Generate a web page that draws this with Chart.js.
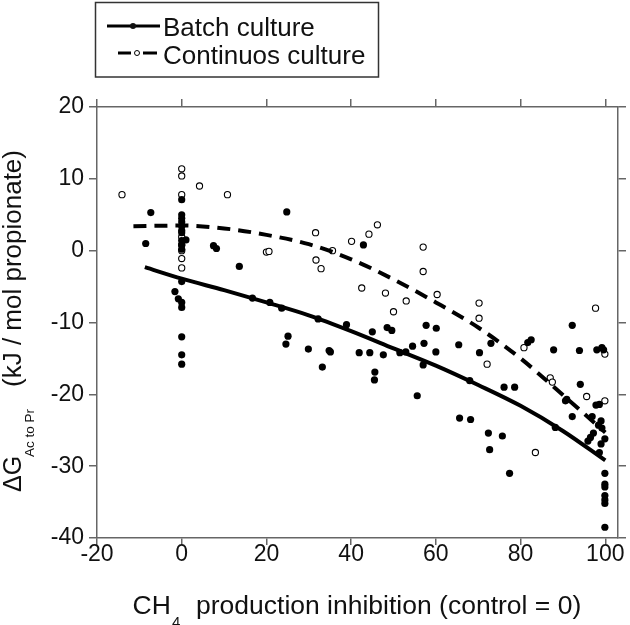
<!DOCTYPE html>
<html>
<head>
<meta charset="utf-8">
<script src="https://cdn.jsdelivr.net/npm/chart.js@4.4.1/dist/chart.umd.min.js"></script>
<style>
  body { margin: 0; background: #fff; }
  #wrap { width: 630px; height: 625px; }
</style>
</head>
<body>
<div id="wrap"><canvas id="chart" width="630" height="625"></canvas></div>
<script>
// measured points, batch culture (filled)
const batchX = [0, 0, 0, 0, 0, 0, 0, 0, 0, 0, 0, 0, 0, 0, 0, 0,
  -7.3, -8.5, 24.8, 1.0, 7.5, 8.2, 13.6, -1.6, -0.8, 16.7, 20.8, 23.6, 25.1, 24.6, 29.9,
  32.2, 33.2, 34.8, 35.1, 38.9, 41.9, 44.4, 45.0, 45.6, 45.5, 42.9, 47.6, 48.5, 49.6,
  51.5, 52.9, 54.5, 55.6, 57.2, 57.7, 57.0, 60.1, 60.0, 65.4, 68.0, 70.3, 65.6, 68.2,
  73.0, 72.4, 72.7, 75.7, 77.4, 76.1, 78.6, 81.7, 82.5, 87.8, 88.2, 90.6, 90.9, 92.2,
  92.2, 93.9, 94.1, 96.9, 95.9, 96.5, 97.2, 97.8, 98.6, 98.0, 99.2, 99.6, 99.0, 98.4,
  99.2, 99.9, 99.0, 98.6, 99.9, 99.9, 99.9, 99.9, 99.9, 99.9, 99.9];
const batchY = [7.1, 5.0, 4.5, 4.0, 3.4, 2.8, 2.5, 1.4, 0.8, 0.2, -4.3, -7.2, -7.9, -12.0, -14.5, -15.8,
  5.3, 1.0, 5.4, 1.5, 0.7, 0.3, -2.2, -5.7, -6.7, -6.6, -7.2, -8.0, -11.9, -13.0, -13.7,
  -9.5, -16.2, -13.9, -14.1, -10.3, -14.2, -14.2, -11.3, -16.9, -18.0, 0.8, -14.5, -10.7, -11.1,
  -14.2, -14.1, -13.3, -20.2, -12.9, -10.4, -15.9, -10.8, -14.1, -13.1, -18.1, -14.2, -23.3, -23.5,
  -12.9, -25.4, -27.7, -25.8, -31.0, -19.0, -19.0, -12.8, -12.4, -13.8, -24.6, -20.9, -20.7, -10.4,
  -23.1, -13.9, -18.6, -23.1, -26.5, -26.0, -25.4, -21.5, -21.4, -13.8, -13.5, -13.8, -23.7, -24.3,
  -24.7, -26.2, -26.9, -28.1, -31.0, -32.5, -32.9, -34.1, -34.7, -35.2, -38.5];

// measured points, continuous culture (open)
const contX = [-14.1, 0, 0, 0, 0, 0, 0, 0, 0, 4.2, 10.8, 20.0, 20.6, 31.6, 31.7, 32.9,
  35.6, 40.1, 44.2, 46.2, 42.5, 48.1, 53.0, 50.0, 57.0, 57.0, 60.3, 70.2, 70.2, 72.1,
  80.8, 83.5, 87.0, 87.5, 95.6, 97.7, 99.9, 99.9];
const contY = [7.8, 11.4, 10.4, 7.8, 1.9, 0.8, 0.0, -1.1, -2.4, 9.0, 7.8, -0.2, -0.1, 2.5, -1.3, -2.5,
  0.0, 1.3, 2.3, 3.6, -5.2, -5.9, -7.0, -8.5, 0.5, -2.9, -6.1, -7.3, -9.4, -15.8,
  -13.5, -28.1, -17.7, -18.3, -20.3, -8.0, -14.4, -20.9];

// fitted curves
const batchFitX = [-8.7, 0, 10, 20, 30, 40, 50, 60, 70, 80, 90, 100];
const batchFitY = [-2.3, -3.9, -5.5, -7.2, -9.0, -11.2, -13.6, -16.0, -18.7, -21.6, -25.1, -29.2];
const contFitX = [-11.4, 0, 10, 20, 30, 40, 50, 60, 70, 80, 90, 100];
const contFitY = [3.4, 3.5, 3.1, 2.2, 0.9, -1.2, -4.0, -7.2, -10.7, -15.0, -20.1, -25.3];

const FONT = '"Liberation Sans", Arial, sans-serif';
const toXY = (xs, ys) => xs.map((x, i) => ({ x: x, y: ys[i] }));

// legend box + axis titles drawn by hand (subscripts)
const extras = {
  id: 'extras',
  afterDraw(chart) {
    const ctx = chart.ctx;
    ctx.save();
    ctx.fillStyle = '#111';

    // legend
    ctx.lineWidth = 1.5;
    ctx.strokeStyle = '#333';
    ctx.strokeRect(95.5, 2.5, 283, 74.5);
    ctx.strokeStyle = '#000';
    ctx.lineWidth = 3;
    ctx.beginPath(); ctx.moveTo(107, 26); ctx.lineTo(160, 26); ctx.stroke();
    ctx.beginPath(); ctx.arc(133, 26, 3, 0, Math.PI * 2); ctx.fill();
    ctx.beginPath(); ctx.moveTo(118, 53); ctx.lineTo(131, 53); ctx.moveTo(143, 53); ctx.lineTo(157, 53); ctx.stroke();
    ctx.lineWidth = 1;
    ctx.fillStyle = '#fff';
    ctx.beginPath(); ctx.arc(137, 53, 2.5, 0, Math.PI * 2); ctx.fill(); ctx.stroke();
    ctx.fillStyle = '#111';
    ctx.font = '26px ' + FONT;
    ctx.textBaseline = 'alphabetic';
    ctx.textAlign = 'left';
    ctx.fillText('Batch culture', 163, 36);
    ctx.fillText('Continuos culture', 163, 64);

    // x title
    ctx.font = '26.5px ' + FONT;
    ctx.fillText('CH', 132.5, 614);
    ctx.font = '15px ' + FONT;
    ctx.fillText('4', 172, 627);
    ctx.font = '26.5px ' + FONT;
    ctx.fillText('production inhibition (control = 0)', 196, 614);

    // y title
    ctx.translate(0, 492);
    ctx.rotate(-Math.PI / 2);
    ctx.font = '25px ' + FONT;
    ctx.fillText('\u0394G', 0, 21);
    ctx.font = '13.5px ' + FONT;
    ctx.fillText('Ac to Pr', 35, 33.5);
    ctx.font = '26px ' + FONT;
    ctx.fillText('(kJ / mol propionate)', 105, 21);
    ctx.restore();
  }
};

const axisGrid = { drawOnChartArea: false, drawTicks: true, tickLength: 8, color: '#666', lineWidth: 1.5 };
const axisBorder = { color: '#666', width: 1.5 };

new Chart(document.getElementById('chart'), {
  type: 'scatter',
  data: {
    datasets: [
      {
        label: 'Batch fit',
        type: 'line',
        data: toXY(batchFitX, batchFitY),
        borderColor: '#000',
        borderWidth: 4,
        pointRadius: 0,
        cubicInterpolationMode: 'monotone',
        fill: false
      },
      {
        label: 'Continuos fit',
        type: 'line',
        data: toXY(contFitX, contFitY),
        borderColor: '#000',
        borderWidth: 4,
        borderDash: [13, 8],
        pointRadius: 0,
        cubicInterpolationMode: 'monotone',
        fill: false
      },
      {
        label: 'Batch culture',
        data: toXY(batchX, batchY),
        backgroundColor: '#000',
        borderColor: '#000',
        borderWidth: 0,
        pointRadius: 3.6
      },
      {
        label: 'Continuos culture',
        data: toXY(contX, contY),
        backgroundColor: '#fff',
        borderColor: '#000',
        borderWidth: 1.1,
        pointRadius: 3.1
      }
    ]
  },
  options: {
    responsive: false,
    animation: false,
    layout: { padding: { top: 98, left: 0, right: 0, bottom: 0 } },
    plugins: { legend: { display: false }, tooltip: { enabled: false } },
    scales: {
      x: {
        type: 'linear', position: 'bottom', min: -20, max: 103,
        ticks: { stepSize: 20, includeBounds: false, color: '#111', font: { family: FONT, size: 23 }, padding: -4, maxRotation: 0 },
        grid: Object.assign({}, axisGrid, { tickLength: 7 }),
        border: axisBorder,
        afterFit: s => { s.height = 87; }
      },
      x2: {
        type: 'linear', position: 'top', min: -20, max: 103,
        ticks: { stepSize: 20, includeBounds: false, callback: () => '' },
        grid: axisGrid,
        border: axisBorder,
        afterFit: s => { s.height = 9; }
      },
      y: {
        type: 'linear', position: 'left', min: -40, max: 20,
        ticks: { stepSize: 10, includeBounds: false, color: '#111', font: { family: FONT, size: 23 }, padding: 5 },
        grid: axisGrid,
        border: axisBorder,
        afterFit: s => { s.width = 97; }
      },
      y2: {
        type: 'linear', position: 'right', min: -40, max: 20,
        ticks: { stepSize: 10, includeBounds: false, callback: () => '' },
        grid: axisGrid,
        border: axisBorder,
        afterFit: s => { s.width = 12; }
      }
    }
  },
  plugins: [extras]
});
</script>
</body>
</html>
